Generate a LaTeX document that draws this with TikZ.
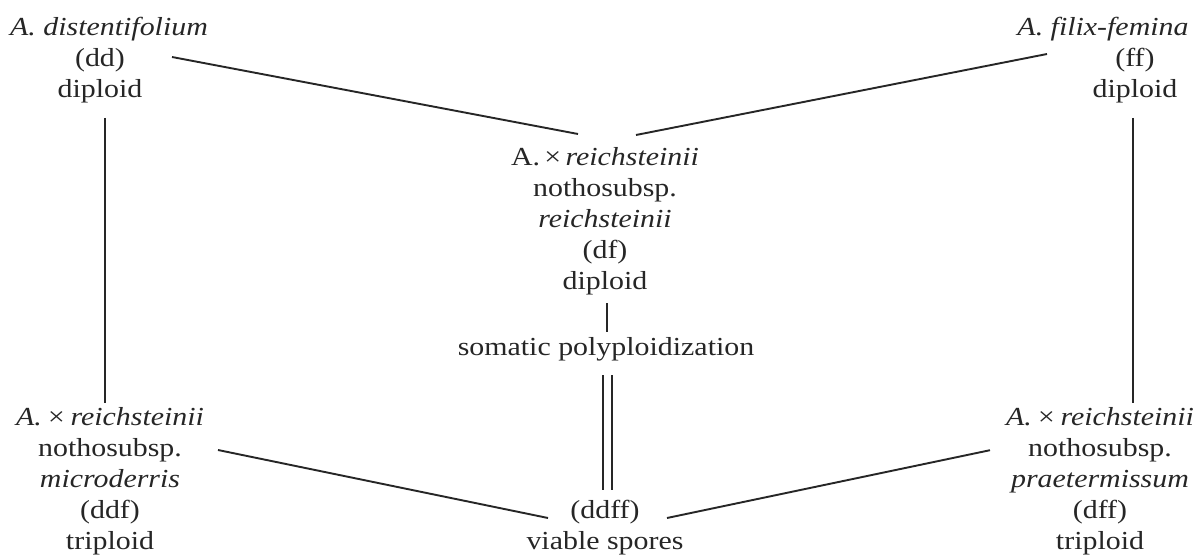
\documentclass[tikz,border=0pt]{standalone}
\usepackage{fontspec}
\setmainfont{Liberation Serif}[FakeStretch=1.15]
\usetikzlibrary{calc}
\definecolor{ink}{HTML}{262626}
\newcommand\tstrut{\rule[-0.25em]{0pt}{0.8em}}
\begin{document}
\begin{tikzpicture}[x=1pt,y=-1pt,
  txt/.style={align=center, anchor=north, font=\fontsize{26}{31}\selectfont, text=ink, inner sep=0pt},
  link/.style={draw=ink, line width=1.9pt}]
\useasboundingbox[fill=white] (0,0) rectangle (1197,559);

\node[txt] (dd) at (100,17.2) {\tstrut\hspace*{18pt}\textit{A. distentifolium}\\(dd)\\diploid};
\node[txt] (ff) at (1135,17.2) {\tstrut\hspace*{-64pt}\textit{A. filix-femina}\\(ff)\\diploid};
\node[txt] (df) at (605,147.2) {\tstrut A.\,×\,\textit{reichsteinii}\\nothosubsp.\\\textit{reichsteinii}\\(df)\\diploid};
\node[txt] (soma) at (606,337.2) {\tstrut somatic polyploidization};
\node[txt] (ddf) at (110,407.2) {\tstrut\textit{A.\,×\,reichsteinii}\\nothosubsp.\\\textit{microderris}\\(ddf)\\triploid};
\node[txt] (dff) at (1100,407.2) {\tstrut\textit{A.\,×\,reichsteinii}\\nothosubsp.\\\textit{praetermissum}\\(dff)\\triploid};
\node[txt] (ddff) at (605,500.2) {\tstrut(ddff)\\viable spores};

\draw[link] ($(dd.north)+(72,39.8)$) -- ($(df.north)+(-27,-13.2)$);
\draw[link] ($(df.north)+(31,-12.2)$) -- ($(ff.north)+(-88,36.8)$);
\draw[link] ($(dd.north)+(5,100.8)$) -- ($(ddf.north)+(-5,-4.2)$);
\draw[link] ($(ff.north)+(-2,100.8)$) -- ($(dff.north)+(33,-4.2)$);
\draw[link] ($(df.north)+(2,155.8)$) -- ($(soma.north)+(1,-5.2)$);
\draw[link, double=white, double distance=7pt] ($(soma.north)+(1.5,37.8)$) -- ($(ddff.north)+(2.5,-10.2)$);
\draw[link] ($(ddf.north)+(108,42.8)$) -- ($(ddff.north)+(-57,17.8)$);
\draw[link] ($(ddff.north)+(62,17.8)$) -- ($(dff.north)+(-110,43)$);
\end{tikzpicture}
\end{document}
